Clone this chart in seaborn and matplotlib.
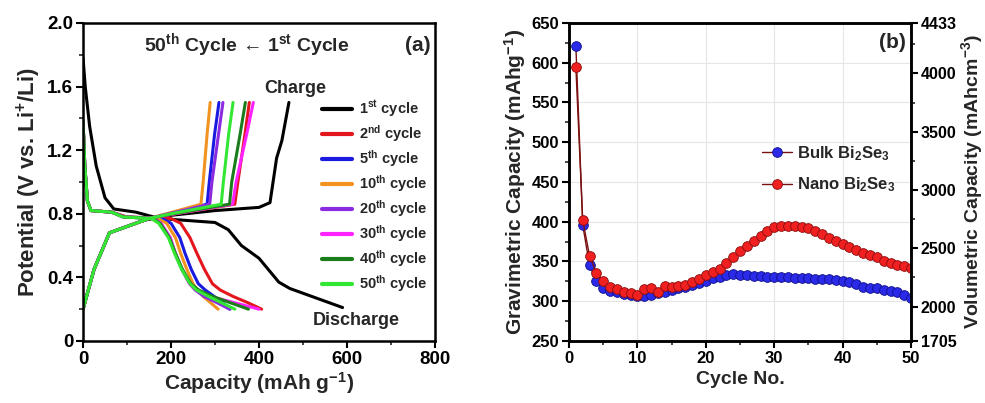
import numpy as np
import pandas as pd
import matplotlib
matplotlib.use("Agg")
import matplotlib.pyplot as plt
import seaborn as sns
from matplotlib.ticker import MultipleLocator, FixedLocator

# ---------------- data: panel (a) ----------------
cycle_labels = ["1$^{st}$ cycle", "2$^{nd}$ cycle", "5$^{th}$ cycle", "10$^{th}$ cycle",
                "20$^{th}$ cycle", "30$^{th}$ cycle", "40$^{th}$ cycle", "50$^{th}$ cycle"]
cycle_colors = ["#000000", "#e3161d", "#1a1ae0", "#f2921f",
                "#8a2be2", "#ff22ff", "#1b7c1b", "#33e633"]

# first-cycle discharge / charge
d1_cap = [0, 5, 15, 30, 50, 70, 120, 160, 200, 300, 330, 360, 400, 430, 445, 470, 530, 590]
d1_v = [1.78, 1.60, 1.35, 1.10, 0.90, 0.83, 0.81, 0.78, 0.765, 0.745, 0.70, 0.60, 0.52, 0.42, 0.37, 0.33, 0.27, 0.21]
c1_cap = [0, 25, 60, 100, 140, 200, 300, 400, 425, 440, 452, 458, 468]
c1_v = [0.20, 0.45, 0.68, 0.72, 0.76, 0.79, 0.82, 0.84, 0.87, 1.15, 1.26, 1.35, 1.50]

# later cycles: discharge capacity at common voltage levels
dis_v = [1.38, 1.10, 0.88, 0.82, 0.81, 0.78, 0.77, 0.74, 0.65, 0.55, 0.45, 0.36, 0.32, 0.28, 0.24, 0.20]
d2_cap = [0, 4, 10, 18, 65, 100, 200, 222, 243, 259, 276, 294, 312, 341, 375, 406]
d5_cap = [0, 4, 10, 18, 65, 95, 180, 200, 220, 232, 246, 262, 278, 298, 318, 334]
d10_cap = [0, 4, 10, 18, 65, 95, 170, 190, 210, 222, 236, 250, 260, 273, 290, 307]
d20_cap = [0, 4, 10, 18, 65, 90, 160, 177, 198, 210, 225, 242, 255, 275, 305, 333]
d30_cap = [0, 4, 10, 18, 65, 95, 160, 177, 198, 210, 225, 242, 258, 290, 345, 400]
d40_cap = [0, 4, 10, 18, 65, 92, 158, 175, 196, 210, 226, 245, 263, 295, 335, 376]
d50_cap = [0, 4, 10, 18, 65, 90, 155, 172, 194, 208, 224, 243, 258, 285, 315, 345]

# later cycles: charge capacity at common voltage levels
chg_v = [0.20, 0.45, 0.68, 0.72, 0.77, 0.80, 0.86, 1.00, 1.30, 1.50]
c2_cap = [0, 25, 60, 100, 150, 210, 345, 352, 368, 378]
c5_cap = [0, 25, 60, 100, 150, 195, 282, 287, 299, 309]
c10_cap = [0, 25, 60, 100, 150, 190, 268, 273, 282, 289]
c20_cap = [0, 25, 60, 100, 150, 195, 288, 293, 308, 318]
c30_cap = [0, 25, 60, 100, 150, 210, 340, 348, 372, 387]
c40_cap = [0, 25, 60, 100, 150, 205, 333, 338, 357, 369]
c50_cap = [0, 25, 60, 100, 150, 200, 314, 319, 331, 341]

# ---------------- data: panel (b) ----------------
cycles = list(range(1, 51))
bulk = [621, 396, 345, 325, 317, 313, 311, 309, 308, 307,
        307, 308, 310, 312, 314, 316, 318, 320, 323, 326,
        329, 331, 333, 334, 333, 333, 332, 332, 331, 330,
        330, 330, 329, 329, 329, 328, 328, 328, 327, 326,
        324, 322, 318, 317, 316, 314, 313, 311, 308, 304]
nano = [594, 402, 357, 336, 325, 318, 315, 312, 310, 308,
        315, 316, 312, 319, 318, 319, 320, 324, 328, 333,
        337, 341, 348, 356, 363, 369, 376, 382, 388, 393,
        395, 395, 394, 393, 392, 388, 384, 380, 376, 372,
        368, 365, 361, 358, 355, 351, 348, 345, 344, 342]
vol_factor = 6.82

# ---------------- style ----------------
sns.set_theme(style="ticks")
plt.rcParams["font.family"] = ["Liberation Sans", "DejaVu Sans"]
plt.rcParams["font.weight"] = "bold"
plt.rcParams["axes.labelweight"] = "bold"
plt.rcParams["mathtext.fontset"] = "custom"
plt.rcParams["mathtext.rm"] = "Liberation Sans:bold"
plt.rcParams["mathtext.bf"] = "Liberation Sans:bold"
plt.rcParams["mathtext.it"] = "Liberation Sans:bold"
plt.rcParams["mathtext.default"] = "bf"

fig = plt.figure(figsize=(9.85, 4.03), dpi=100)
axA = fig.add_axes([0.0843, 0.154, 0.3573, 0.789])
axB = fig.add_axes([0.5777, 0.154, 0.3472, 0.789])


def style_axes(ax, labelsize=12):
    for s in ax.spines.values():
        s.set_linewidth(1.8)
        s.set_color("black")
    ax.tick_params(which="major", direction="out", length=5, width=1.5,
                   labelsize=labelsize, colors="black", pad=2)
    ax.tick_params(which="minor", direction="out", length=3, width=1.2)
    for lab in ax.get_xticklabels() + ax.get_yticklabels():
        lab.set_fontweight("bold")


# ---------------- panel (a) ----------------
dis_caps = [d2_cap, d5_cap, d10_cap, d20_cap, d30_cap, d40_cap, d50_cap]
chg_caps = [c2_cap, c5_cap, c10_cap, c20_cap, c30_cap, c40_cap, c50_cap]

curves = [(d1_cap, d1_v, c1_cap, c1_v)]
for dc, cc in zip(dis_caps, chg_caps):
    curves.append((dc, dis_v, cc, chg_v))

for (dc, dv, cc, cv), lab, col in zip(curves, cycle_labels, cycle_colors):
    df_d = pd.DataFrame({"cap": dc, "v": dv})
    df_c = pd.DataFrame({"cap": cc, "v": cv})
    sns.lineplot(data=df_d, x="cap", y="v", ax=axA, color=col, lw=2.2,
                 sort=False, estimator=None, label=lab)
    sns.lineplot(data=df_c, x="cap", y="v", ax=axA, color=col, lw=2.2,
                 sort=False, estimator=None)

axA.set_xlim(0, 800)
axA.set_ylim(0, 2.0)
axA.xaxis.set_major_locator(MultipleLocator(200))
axA.xaxis.set_minor_locator(MultipleLocator(100))
axA.yaxis.set_major_locator(FixedLocator([0, 0.4, 0.8, 1.2, 1.6, 2.0]))
axA.yaxis.set_minor_locator(MultipleLocator(0.2))
axA.set_yticklabels(["0", "0.4", "0.8", "1.2", "1.6", "2.0"])
axA.set_xlabel("Capacity (mAh g$^{-1}$)", fontsize=15, fontweight="bold", labelpad=2)
axA.set_ylabel("Potential (V vs. Li$^{+}$/Li)", fontsize=16, fontweight="bold", labelpad=3)
style_axes(axA, labelsize=13.5)

axA.text(372, 1.86, "50$^{th}$ Cycle \u2190 1$^{st}$ Cycle", ha="center", va="center",
         fontsize=14, fontweight="bold")
axA.text(790, 1.86, "(a)", ha="right", va="center", fontsize=15, fontweight="bold")
axA.text(482, 1.59, "Charge", ha="center", va="center", fontsize=13, fontweight="bold")
axA.text(620, 0.13, "Discharge", ha="center", va="center", fontsize=13, fontweight="bold")

legA = axA.legend(loc="upper right", bbox_to_anchor=(1.0, 0.785), frameon=False,
                  fontsize=10.5, handlelength=2.0, handletextpad=0.5,
                  labelspacing=0.28, borderaxespad=0.1)
for line in legA.get_lines():
    line.set_linewidth(3)
for t in legA.get_texts():
    t.set_fontweight("bold")

# ---------------- panel (b) ----------------
df_b = pd.DataFrame({"cycle": cycles * 2,
                     "cap": bulk + nano,
                     "sample": ["Bulk Bi$_{2}$Se$_{3}$"] * len(cycles) + ["Nano Bi$_{2}$Se$_{3}$"] * len(cycles)})

axB.grid(True, color="#e6e6e6", lw=0.8)
axB.set_axisbelow(True)
for name, face, edge in [("Bulk Bi$_{2}$Se$_{3}$", "#2a2ae8", "#10108a"),
                         ("Nano Bi$_{2}$Se$_{3}$", "#f02020", "#8a0c0c")]:
    sub = df_b[df_b["sample"] == name]
    sns.lineplot(data=sub, x="cycle", y="cap", ax=axB, color="#7a1010", lw=1.0,
                 marker="o", markersize=7, markerfacecolor=face, markeredgecolor=edge,
                 markeredgewidth=0.6, label=name, estimator=None, sort=False)

axB.set_xlim(0, 50)
axB.set_ylim(250, 650)
axB.xaxis.set_major_locator(MultipleLocator(10))
axB.xaxis.set_minor_locator(MultipleLocator(5))
axB.yaxis.set_major_locator(MultipleLocator(50))
axB.yaxis.set_minor_locator(MultipleLocator(25))
axB.set_xlabel("Cycle No.", fontsize=14, fontweight="bold")
axB.set_ylabel("Gravimetric Capacity (mAhg$^{-1}$)", fontsize=15, fontweight="bold",
               labelpad=3)
style_axes(axB)
axB.text(49.3, 626, "(b)", ha="right", va="center", fontsize=15, fontweight="bold")

legB = axB.legend(loc="center left", bbox_to_anchor=(0.52, 0.54), frameon=False,
                  fontsize=12, handlelength=1.8, handletextpad=0.3, labelspacing=0.75)
for t in legB.get_texts():
    t.set_fontweight("bold")

axV = axB.twinx()
axV.set_ylim(250 * vol_factor, 650 * vol_factor)
axV.yaxis.set_major_locator(FixedLocator([1705, 2000, 2500, 3000, 3500, 4000, 4433]))
axV.yaxis.set_minor_locator(FixedLocator([2250, 2750, 3250, 3750, 4250]))
axV.set_ylabel("Volumetric Capacity (mAhcm$^{-3}$)", fontsize=14, fontweight="bold",
               labelpad=2)
style_axes(axV, labelsize=11.5)
axV.grid(False)

fig.savefig("out.png", dpi=100)
